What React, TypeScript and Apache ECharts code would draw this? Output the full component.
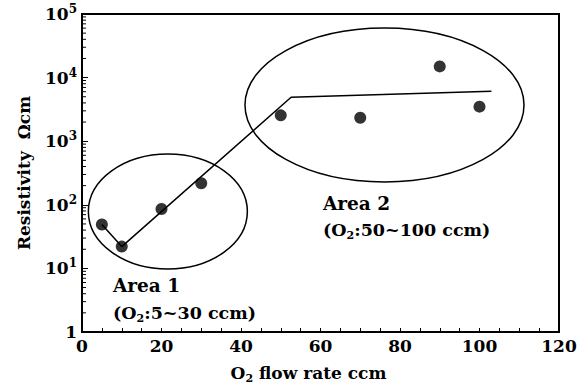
import React, { useEffect, useRef } from "react";
import * as echarts from "echarts";

const xTicks = [0, 20, 40, 60, 80, 100, 120];
const flowRates = [5, 10, 20, 30, 50, 70, 90, 100];
const resistivity = [49, 22, 86, 218, 2550, 2340, 15000, 3490];
const fitLineX = [5, 10, 52.6, 103];
const fitLineY = [49, 22, 4900, 6100];
// ellipse: center x, center y, half-width (x units), half-height (decades)
const ellipseCx = [21.6, 76.1];
const ellipseCy = [78.5, 3710];
const ellipseRx = [20, 35.1];
const ellipseRy = [0.904, 1.21];
const minorTickValues: number[] = [];
for (let k = 0; k < 5; k++) for (let m = 2; m <= 9; m++) minorTickValues.push(m * Math.pow(10, k));

const FONT = "DejaVu Serif";
const W = "bold";

export default function App() {
  const ref = useRef<HTMLDivElement>(null);
  useEffect(() => {
    const chart = echarts.init(ref.current!, null, { renderer: "svg" });
    const sup = { fontSize: 12, fontWeight: W, verticalAlign: "top", lineHeight: 12, fontFamily: FONT, color: "#000" };
    const subStyle = { fontSize: 11, fontWeight: W, verticalAlign: "bottom", lineHeight: 6, fontFamily: FONT, color: "#000" };
    chart.setOption({
      animation: false,
      backgroundColor: "#fff",
      grid: { left: 82, right: 27, top: 14, bottom: 56, show: true, borderColor: "#000", borderWidth: 2, backgroundColor: "transparent" },
      xAxis: {
        type: "value",
        min: 0,
        max: 120,
        interval: 20,
        axisLine: { show: true, lineStyle: { color: "#000", width: 2 } },
        axisTick: { show: true, inside: true, length: 4, lineStyle: { color: "#000", width: 1 } },
        minorTick: { show: true, splitNumber: 4, length: 4, lineStyle: { color: "#000", width: 1 } },
        splitLine: { show: false },
        axisLabel: { color: "#000", fontFamily: FONT, fontWeight: W, fontSize: 17, margin: 5,
          formatter: (v: number) => (xTicks.includes(v) ? String(v) : "") },
        name: "O{sub|2} flow rate ccm",
        nameLocation: "middle",
        nameGap: 30,
        nameTextStyle: { color: "#000", fontFamily: FONT, fontWeight: W, fontSize: 17, lineHeight: 22, padding: [0, 24, 0, 0], rich: { sub: subStyle } },
      },
      yAxis: {
        type: "log",
        logBase: 10,
        min: 1,
        max: 100000,
        axisLine: { show: true, lineStyle: { color: "#000", width: 2 } },
        axisTick: { show: true, inside: true, length: 6, lineStyle: { color: "#000", width: 1 } },
        splitLine: { show: false },
        axisLabel: {
          color: "#000", fontFamily: FONT, fontWeight: W, fontSize: 17, margin: 5, lineHeight: 22,
          formatter: (v: number) => (v <= 1 ? "1" : "10{s|" + Math.round(Math.log10(v)) + "}"),
          rich: { s: sup },
        },
        name: "Resistivity  Ωcm",
        nameLocation: "middle",
        nameRotate: 90,
        nameGap: 50,
        nameTextStyle: { color: "#000", fontFamily: FONT, fontWeight: W, fontSize: 17 },
      },
      series: [
        {
          type: "custom",
          silent: true,
          data: minorTickValues.map((v) => [0, v]),
          renderItem: (params: any, api: any) => {
            const p = api.coord([0, api.value(1)]);
            return { type: "line", shape: { x1: p[0], y1: p[1], x2: p[0] + 4, y2: p[1] }, style: { stroke: "#000", lineWidth: 1 } };
          },
          z: 1,
        },
        {
          type: "custom",
          silent: true,
          clip: false,
          data: ellipseCx.map((cx, i) => [cx, ellipseCy[i], ellipseRx[i], ellipseRy[i]]),
          renderItem: (params: any, api: any) => {
            const cx = api.value(0), cy = api.value(1), rx = api.value(2), ry = api.value(3);
            const c = api.coord([cx, cy]);
            const px = api.coord([cx + rx, cy]);
            const py = api.coord([cx, cy * Math.pow(10, ry)]);
            return {
              type: "ellipse",
              shape: { cx: c[0], cy: c[1], rx: px[0] - c[0], ry: c[1] - py[1] },
              style: { fill: "none", stroke: "#000", lineWidth: 1.5 },
            };
          },
          z: 2,
        },
        {
          type: "line",
          data: fitLineX.map((x, i) => [x, fitLineY[i]]),
          showSymbol: false,
          symbol: "none",
          lineStyle: { color: "#000", width: 1.5 },
          z: 3,
        },
        {
          type: "scatter",
          data: flowRates.map((x, i) => [x, resistivity[i]]),
          symbol: "circle",
          symbolSize: 12,
          itemStyle: { color: "#000" },
          z: 4,
        },
      ],
      graphic: [
        { type: "text", left: 113, top: 276, style: { text: "Area 1", fontFamily: FONT, fontWeight: W, fontSize: 18.5, fill: "#000" } },
        { type: "text", left: 113, top: 302, style: { text: "(O{sub|2}:5~30 ccm)", fontFamily: FONT, fontWeight: W, fontSize: 17.5, lineHeight: 22, fill: "#000", rich: { sub: subStyle } } },
        { type: "text", left: 323, top: 194, style: { text: "Area 2", fontFamily: FONT, fontWeight: W, fontSize: 18.5, fill: "#000" } },
        { type: "text", left: 323, top: 219, style: { text: "(O{sub|2}:50~100 ccm)", fontFamily: FONT, fontWeight: W, fontSize: 17.5, lineHeight: 22, fill: "#000", rich: { sub: subStyle } } },
      ],
    });
    return () => chart.dispose();
  }, []);
  return <div ref={ref} style={{ position: "fixed", left: 0, top: 0, width: 586, height: 389 }} />;
}
